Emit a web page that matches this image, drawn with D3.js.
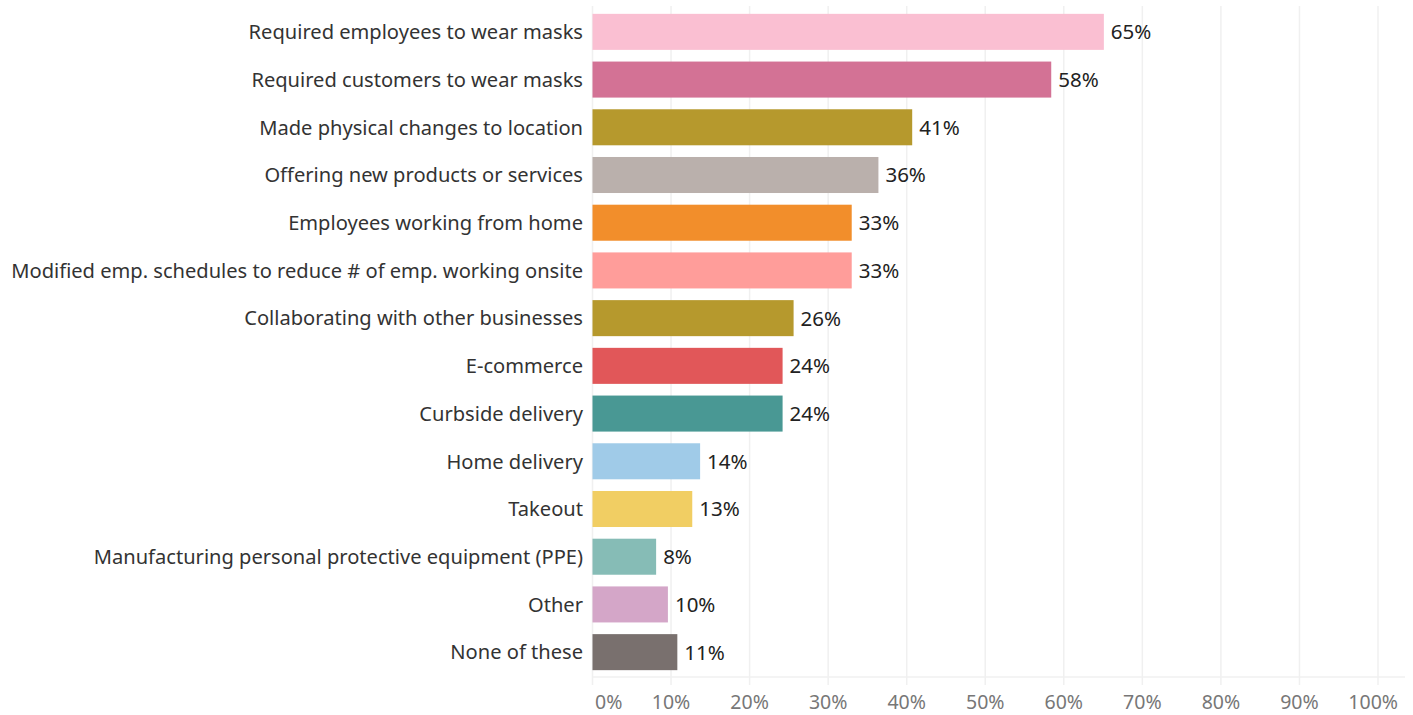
<!DOCTYPE html>
<html>
<head>
<meta charset="utf-8">
<script src="https://cdn.jsdelivr.net/npm/d3@7"></script>
<style>
  body { margin: 0; background: #fff; }
  svg text { font-family: "Noto Sans", sans-serif; }
</style>
</head>
<body>
<div id="chart"></div>
<script>
// categories, top to bottom
const categories = [
    "Required employees to wear masks",
    "Required customers to wear masks",
    "Made physical changes to location",
    "Offering new products or services",
    "Employees working from home",
    "Modified emp. schedules to reduce # of emp. working onsite",
    "Collaborating with other businesses",
    "E-commerce",
    "Curbside delivery",
    "Home delivery",
    "Takeout",
    "Manufacturing personal protective equipment (PPE)",
    "Other",
    "None of these"
];
// share of businesses (%)
const shares = [65.1, 58.4, 40.7, 36.4, 33.0, 33.0, 25.6, 24.2, 24.2, 13.7, 12.7, 8.1, 9.6, 10.8];
const barColors = ["#FABFD2", "#D37295", "#B6992D", "#BAB0AC", "#F28E2B", "#FF9D9A", "#B6992D",
                   "#E15759", "#499894", "#A0CBE8", "#F1CE63", "#86BCB6", "#D4A6C8", "#79706E"];
const tickValues = [0, 10, 20, 30, 40, 50, 60, 70, 80, 90, 100];

const width = 1413, height = 715;
const svg = d3.select("#chart").append("svg")
    .attr("width", width)
    .attr("height", height);

const x = d3.scaleLinear().domain([0, 100]).range([592.5, 1378]);
const y = d3.scaleBand().domain(categories).range([8, 676]).paddingInner(0.245).paddingOuter(0.1225);

// vertical gridlines
svg.append("g")
    .selectAll("line")
    .data(tickValues)
    .enter()
    .append("line")
    .attr("x1", d => x(d)).attr("x2", d => x(d))
    .attr("y1", 6).attr("y2", 685)
    .attr("stroke", "#f0f0f0")
    .attr("stroke-width", 1.5);

// axis baseline
svg.append("line")
    .attr("x1", x(0)).attr("x2", 1405)
    .attr("y1", 677).attr("y2", 677)
    .attr("stroke", "#f0f0f0")
    .attr("stroke-width", 1.5);

// bars
svg.append("g")
    .selectAll("rect")
    .data(categories)
    .enter()
    .append("rect")
    .attr("x", x(0))
    .attr("y", d => y(d))
    .attr("width", (d, i) => x(shares[i]) - x(0))
    .attr("height", y.bandwidth())
    .attr("fill", (d, i) => barColors[i]);

// category labels
svg.append("g")
    .selectAll("text")
    .data(categories)
    .enter()
    .append("text")
    .attr("x", 583)
    .attr("y", d => y(d) + y.bandwidth() / 2)
    .attr("dy", "0.36em")
    .attr("text-anchor", "end")
    .attr("fill", "#333")
    .style("font-size", "20.1px")
    .text(d => d);

// value labels
svg.append("g")
    .selectAll("text")
    .data(categories)
    .enter()
    .append("text")
    .attr("x", (d, i) => x(shares[i]) + 7)
    .attr("y", d => y(d) + y.bandwidth() / 2)
    .attr("dy", "0.36em")
    .attr("fill", "#222")
    .style("font-size", "20.5px")
    .text((d, i) => Math.round(shares[i]) + "%");

// x axis tick labels, kept inside the plot at both ends
const ticks = svg.append("g")
    .selectAll("text")
    .data(tickValues)
    .enter()
    .append("text")
    .attr("x", d => x(d))
    .attr("y", 709)
    .attr("text-anchor", "middle")
    .attr("fill", "#777")
    .style("font-size", "19.5px")
    .text(d => d + "%");

ticks.each(function(d) {
    const w = this.getComputedTextLength();
    const cx = Math.min(Math.max(x(d), 595 + w / 2), 1398 - w / 2);
    d3.select(this).attr("x", cx);
});
</script>
</body>
</html>
